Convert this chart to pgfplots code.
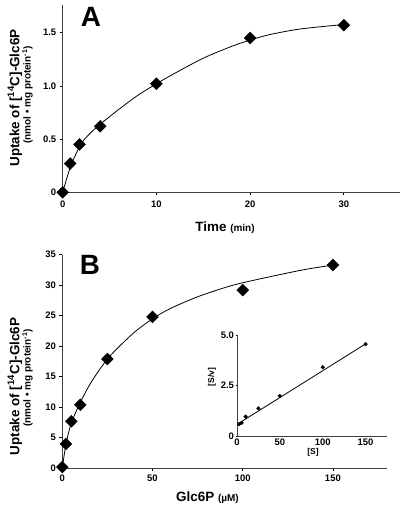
\documentclass[border=0pt]{standalone}
\usepackage{pgfplots}
\pgfplotsset{compat=1.18}
\usepackage{fontspec}
\setmainfont{Liberation Sans}
\begin{document}
\begin{tikzpicture}[x=1bp,y=1bp]
\path[use as bounding box] (0,0) rectangle (403,510);
\coordinate (pA) at (62.7,317.7);
\coordinate (pB) at (62.3,41.7);
\coordinate (pC) at (237,74);
\pgfplotsset{
  myax/.style={scale only axis, axis x line*=bottom, axis y line*=left,
    axis line style={black!75, line width=0.8bp},
    tick align=outside, major tick length=3bp,
    tick style={black, line width=0.6bp},
    ticklabel style={font=\bfseries\fontsize{9.5}{10}\selectfont},
    /pgf/number format/assume math mode=true, clip=false},
  bigmark/.style={mark=square*, mark size=4.2bp, mark options={rotate=45, fill=black, draw=black}, only marks},
}
% Panel A
\begin{axis}[myax, at={(pA)}, anchor=south west, width=337.3bp, height=187.3bp,
  xmin=0, xmax=36, ymin=0, ymax=1.76, xticklabel style={yshift=-2.5bp},
  xtick={0,10,20,30}, ytick={0,0.5,1.0,1.5}, yticklabels={0,0.5,1.0,1.5}]
\addplot[smooth, line width=0.8bp, black] coordinates {
 (0,0) (0.5,0.15) (1,0.28) (2,0.46) (3,0.56) (4,0.64) (5,0.71) (6,0.78) (8,0.91) (10,1.02)
 (12,1.12) (15,1.26) (18,1.37) (20,1.43) (22,1.48) (25,1.53) (28,1.56) (30,1.575)};
\addplot[bigmark] coordinates {(0,0) (0.8,0.27) (1.8,0.45) (4,0.62) (10,1.02) (20,1.45) (30,1.57)};
\end{axis}
% Panel B
\begin{axis}[myax, at={(pB)}, anchor=south west, width=324.7bp, height=213.6bp,
  xmin=0, xmax=180, ymin=0, ymax=35,
  xtick={0,50,100,150}, ytick={0,5,...,35}]
\addplot[smooth, line width=0.8bp, black] coordinates {
 (0,0) (2,3.9) (5,7.4) (10,10.8) (15,13.6) (20,15.9) (25,17.9) (30,19.5) (40,22.3) (50,24.5)
 (60,26.2) (75,28.1) (90,29.6) (100,30.4) (120,31.7) (135,32.6) (150,33.3)};
\addplot[bigmark] coordinates {(0,0.2) (2,4) (5,7.7) (10,10.4) (25,17.9) (50,24.8) (100,29.2) (150,33.3)};
\end{axis}
% Inset
\begin{axis}[myax, at={(pC)}, anchor=south west, width=150bp, height=101bp,
  xmin=0, xmax=175, ymin=0, ymax=5, major tick length=1.5bp,
  xticklabel style={yshift=2.5bp}, yticklabel style={xshift=2bp},
  xtick={0,50,100,150}, ytick={0,2.5,5}, yticklabels={0,2.5,5.0}]
\addplot[line width=0.8bp, black] coordinates {(1,0.6) (150,4.56)};
\addplot[mark=square*, mark size=1.3bp, mark options={rotate=45, fill=black}, only marks] coordinates {
 (2.5,0.59) (5.5,0.65) (10,0.96) (25,1.37) (50,1.98) (100,3.4) (150,4.55)};
\end{axis}
% Labels
\node[font=\bfseries\fontsize{28}{28}\selectfont] at (91,493) {A};
\node[font=\bfseries\fontsize{28}{28}\selectfont] at (90,245) {B};
\node[rotate=90, font=\bfseries\fontsize{13.5}{14}\selectfont] at (15,412) {Uptake of [\textsuperscript{14}C]-Glc6P};
\node[rotate=90, font=\bfseries\fontsize{10}{10}\selectfont] at (27.5,415) {(nmol • mg protein\textsuperscript{-1})};
\node[rotate=90, font=\bfseries\fontsize{13.5}{14}\selectfont] at (15,123.5) {Uptake of [\textsuperscript{14}C]-Glc6P};
\node[rotate=90, font=\bfseries\fontsize{10}{10}\selectfont] at (27.5,132) {(nmol • mg protein\textsuperscript{-1})};
\node[font=\bfseries\fontsize{13.5}{14}\selectfont] at (225,282) {Time {\fontsize{10}{10}\selectfont(min)}};
\node[font=\bfseries\fontsize{13.5}{14}\selectfont] at (207.5,12) {Glc6P {\fontsize{10}{10}\selectfont(µM)}};
\node[rotate=90, font=\bfseries\fontsize{8.5}{9}\selectfont] at (212,133) {[S/v]};
\node[font=\bfseries\fontsize{8.5}{9}\selectfont] at (313,58) {[S]};
\end{tikzpicture}
\end{document}
